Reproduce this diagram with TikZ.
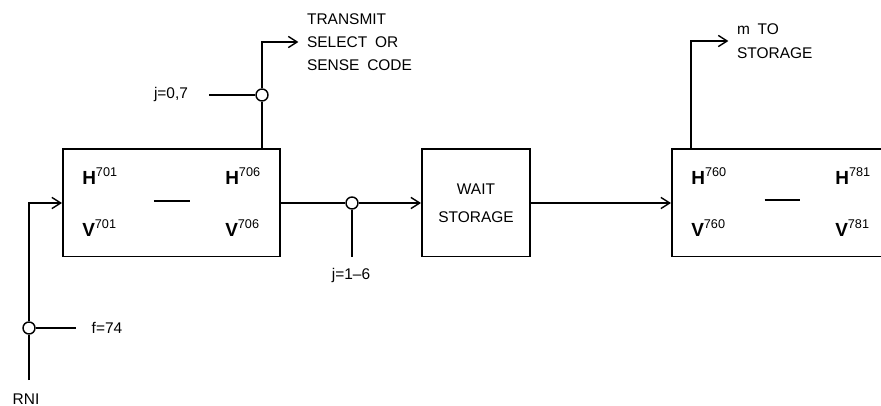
\documentclass[tikz,border=0pt]{standalone}
\usepackage{fontspec}
\setmainfont{Liberation Sans}
\usetikzlibrary{arrows.meta,positioning}

\newcommand{\regtag}[2]{\textbf{#1}\raisebox{5.7pt}{\fontsize{9}{9}\selectfont #2}}

\begin{document}
\begin{tikzpicture}[x=0.025cm, y=-0.025cm,
    blk/.style={draw, line width=1.4pt, minimum height=2.675cm, inner sep=0pt},
    junc/.style={circle, draw, line width=1pt, fill=white, minimum size=0.3cm, inner sep=0pt},
    lbl/.style={font=\fontsize{11}{13}\selectfont, inner sep=2pt},
    reg/.style={font=\fontsize{13.5}{15}\selectfont, inner sep=0pt},
    wire/.style={line width=1pt},
    sig/.style={wire, -{Straight Barb[length=2.2mm, width=2.8mm]}}]
  \clip (0,0) rectangle (881,406);

  % boxes
  \node[blk, minimum width=5.425cm] (box1) at (171.5,203) {};
  \node[blk, minimum width=2.7cm, align=center, font=\fontsize{11}{20}\selectfont] (wait) at (476,203) {WAIT\\STORAGE};
  \node[blk, minimum width=5.75cm] (box3) at (787,203) {};

  % register ranges
  \node[reg, anchor=base west] (h701) at (82,185) {\regtag{H}{701}};
  \node[reg, anchor=base west] (h706) at (225,185) {\regtag{H}{706}};
  \node[reg, anchor=base west] (v701) at (82,237) {\regtag{V}{701}};
  \node[reg, anchor=base west] (v706) at (225,237) {\regtag{V}{706}};
  \node[inner sep=0pt] (rng1) at (172,201) {\rule{0.9cm}{0.8pt}};
  \node[reg, anchor=base west] (h760) at (691,185) {\regtag{H}{760}};
  \node[reg, anchor=base west] (h781) at (835,185) {\regtag{H}{781}};
  \node[reg, anchor=base west] (v760) at (691,237) {\regtag{V}{760}};
  \node[reg, anchor=base west] (v781) at (835,237) {\regtag{V}{781}};
  \node[inner sep=0pt] (rng3) at (782,200) {\rule{0.875cm}{0.8pt}};

  % junctions
  \node[junc] (jc1) at (262,95) {};
  \node[junc] (jc2) at (352,203) {};
  \node[junc] (jf) at (29,328) {};

  % texts
  \node[lbl, anchor=west, align=left, font=\fontsize{11}{16.3}\selectfont] (xmit) at (304,42) {TRANSMIT\\SELECT\enspace OR\\SENSE\enspace CODE};
  \node[lbl, anchor=west, align=left, font=\fontsize{11}{17}\selectfont] (mstore) at (734,41) {m\enspace TO\\STORAGE};
  \node[lbl] (jlab1) at (171,95) {j=0,7};
  \node[lbl] (jlab2) at (351,276) {j=1--6};
  \node[lbl] (flab) at (107,328) {f=74};
  \node[lbl] (rni) at (26,399) {RNI};

  \coordinate (j07in) at (209,95);
  \coordinate (xout) at (262,42);
  \coordinate (mout) at (691,41);
  \coordinate (j16end) at (352,257);
  \coordinate (f74end) at (76,328);
  \coordinate (rnitop) at (29,380);

  % connectors
  \draw[wire] (box1.north -| jc1) -- (jc1);
  \draw[sig, shorten >=4pt] (jc1) -- (xout) -- (xmit.west);
  \draw[wire] (j07in) -- (jc1);
  \draw[wire] (box1.east) -- (jc2);
  \draw[sig] (jc2) -- (wait.west);
  \draw[wire] (jc2) -- (j16end);
  \draw[sig] (wait.east) -- (box3.west);
  \draw[sig, shorten >=4pt] (box3.north -| mout) -- (mout) -- (mstore.west);
  \draw[wire] (rnitop) -- (jf);
  \draw[sig] (jf) |- (box1.west);
  \draw[wire] (jf) -- (f74end);
\end{tikzpicture}
\end{document}
